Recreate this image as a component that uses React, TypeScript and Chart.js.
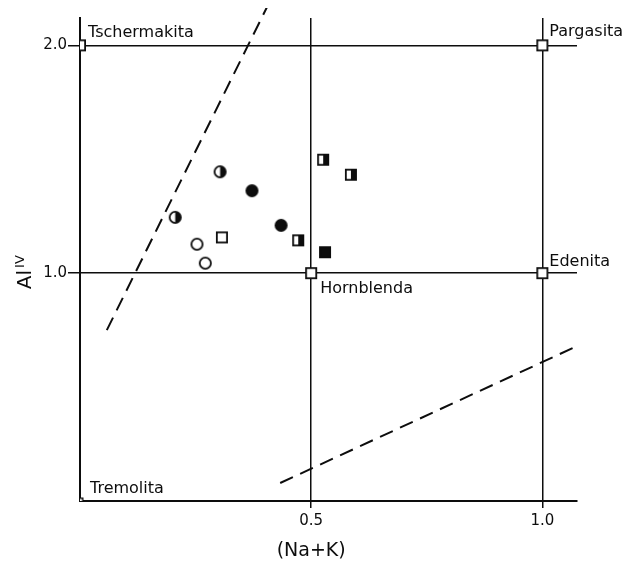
import { useEffect, useRef } from 'react';
import { Chart, registerables } from 'chart.js';

Chart.register(...registerables);

// Axis ticks
const xTicks = [0.5, 1.0];
const yTicks = [1.0, 2.0];

// End-member compositions of the calcic amphiboles
const endMemberNames = ['Tremolita', 'Hornblenda', 'Edenita', 'Tschermakita', 'Pargasita'];
const endMemberNaK = [0, 0.5, 1.0, 0, 1.0];
const endMemberAlIV = [0, 1.0, 1.0, 2.0, 2.0];

// Analysed amphiboles, grouped by symbol
const openCircleNaK = [0.253, 0.271];
const openCircleAlIV = [1.127, 1.044];
const halfCircleNaK = [0.206, 0.303];
const halfCircleAlIV = [1.245, 1.445];
const fullCircleNaK = [0.372, 0.435];
const fullCircleAlIV = [1.362, 1.21];
const openSquareNaK = [0.307];
const openSquareAlIV = [1.157];
const halfSquareNaK = [0.472, 0.526, 0.586];
const halfSquareAlIV = [1.144, 1.498, 1.432];
const fullSquareNaK = [0.53];
const fullSquareAlIV = [1.092];

// Dashed boundary lines
const leftLimitNaK = [0.058, 0.405];
const leftLimitAlIV = [0.75, 2.17];
const rightLimitNaK = [0.433, 1.076];
const rightLimitAlIV = [0.079, 0.681];

const INK = '#0d0d0d';
const FONT = '"DejaVu Sans", sans-serif';

type Shape = 'circle' | 'square';
type Fill = 'open' | 'half' | 'full';

function makeMarker(shape: Shape, fill: Fill, size: number, line = 1.8): HTMLCanvasElement {
  const dim = Math.ceil(size + 2);
  const cv = document.createElement('canvas');
  cv.width = dim;
  cv.height = dim;
  const g = cv.getContext('2d')!;
  const c = dim / 2;
  const h = size / 2 - line / 2;
  g.lineWidth = line;
  g.strokeStyle = INK;
  if (shape === 'circle') {
    g.beginPath();
    g.arc(c, c, h, 0, Math.PI * 2);
    g.fillStyle = fill === 'full' ? INK : '#fff';
    g.fill();
    if (fill === 'half') {
      g.beginPath();
      g.arc(c, c, h, -Math.PI / 2, Math.PI / 2);
      g.closePath();
      g.fillStyle = INK;
      g.fill();
    }
    g.beginPath();
    g.arc(c, c, h, 0, Math.PI * 2);
    g.stroke();
  } else {
    g.fillStyle = fill === 'full' ? INK : '#fff';
    g.fillRect(c - h, c - h, 2 * h, 2 * h);
    if (fill === 'half') {
      g.fillStyle = INK;
      g.fillRect(c, c - h, h, 2 * h);
    }
    g.strokeRect(c - h, c - h, 2 * h, 2 * h);
  }
  return cv;
}

const pts = (xs: number[], ys: number[]) => xs.map((x, i) => ({ x, y: ys[i] }));

export default function App() {
  const canvasRef = useRef<HTMLCanvasElement | null>(null);

  useEffect(() => {
    document.documentElement.style.overflow = 'hidden';
    const canvas = canvasRef.current;
    if (!canvas) return;

    const bigSquare = makeMarker('square', 'open', 12);
    const tinySquare = makeMarker('square', 'open', 7, 1.4);

    // label offsets (px) from each end-member square
    const labelOffsets: [number, number][] = [
      [10, -12],
      [9, 16],
      [7, -11],
      [8, -12],
      [7, -13],
    ];

    const annotations = {
      id: 'amphiboleText',
      afterDatasetsDraw(chart: Chart) {
        const { ctx, scales, chartArea } = chart;
        const xs = scales.x;
        const ys = scales.y;
        ctx.save();
        ctx.fillStyle = INK;
        ctx.font = `16px ${FONT}`;
        ctx.textAlign = 'left';
        ctx.textBaseline = 'middle';
        endMemberNames.forEach((name, i) => {
          const px = xs.getPixelForValue(endMemberNaK[i]);
          const py = ys.getPixelForValue(endMemberAlIV[i]);
          ctx.fillText(name, px + labelOffsets[i][0], py + labelOffsets[i][1]);
        });

        // x-axis title
        ctx.font = `19px ${FONT}`;
        ctx.textAlign = 'center';
        ctx.fillText('(Na+K)', xs.getPixelForValue(0.5), chartArea.bottom + 50);

        // y-axis title: Al with superscript IV, rotated
        ctx.translate(23, ys.getPixelForValue(1.0) + 16);
        ctx.rotate(-Math.PI / 2);
        ctx.textAlign = 'left';
        ctx.textBaseline = 'alphabetic';
        ctx.font = `20px ${FONT}`;
        ctx.fillText('Al', 0, 0);
        const w = ctx.measureText('Al').width;
        ctx.font = `13px ${FONT}`;
        ctx.fillText('IV', w + 2, -7);
        ctx.restore();
      },
    };

    const markerSet = (xs: number[], ys: number[], style: HTMLCanvasElement) => ({
      data: pts(xs, ys),
      pointStyle: style,
      pointRadius: 6,
      showLine: false,
      order: 0,
    });

    const dashed = (xs: number[], ys: number[]) => ({
      data: pts(xs, ys),
      showLine: true,
      borderColor: INK,
      borderWidth: 2,
      borderDash: [14, 8],
      pointRadius: 0,
      fill: false,
      clip: false as const,
      order: 5,
    });

    const chart = new Chart(canvas, {
      type: 'scatter',
      data: {
        datasets: [
          dashed(leftLimitNaK, leftLimitAlIV),
          dashed(rightLimitNaK, rightLimitAlIV),
          {
            data: pts(endMemberNaK, endMemberAlIV),
            pointStyle: [tinySquare, bigSquare, bigSquare, bigSquare, bigSquare],
            pointRadius: 6,
            showLine: false,
            order: 1,
          },
          markerSet(openCircleNaK, openCircleAlIV, makeMarker('circle', 'open', 13)),
          markerSet(halfCircleNaK, halfCircleAlIV, makeMarker('circle', 'half', 13)),
          markerSet(fullCircleNaK, fullCircleAlIV, makeMarker('circle', 'full', 13)),
          markerSet(openSquareNaK, openSquareAlIV, makeMarker('square', 'open', 12)),
          markerSet(halfSquareNaK, halfSquareAlIV, makeMarker('square', 'half', 12)),
          markerSet(fullSquareNaK, fullSquareAlIV, makeMarker('square', 'full', 12)),
        ] as any,
      },
      options: {
        animation: false,
        responsive: true,
        maintainAspectRatio: false,
        layout: { padding: { top: 7, right: 45, left: 0, bottom: 0 } },
        plugins: {
          legend: { display: false },
          tooltip: { enabled: false },
        },
        scales: {
          x: {
            type: 'linear',
            min: 0,
            max: 1.075,
            afterBuildTicks: (s: any) => {
              s.ticks = xTicks.map((v) => ({ value: v }));
            },
            afterFit: (s: any) => {
              s.height = 60;
            },
            grid: {
              color: INK,
              lineWidth: 1.5,
              drawTicks: true,
              tickLength: 7,
              tickColor: INK,
              tickWidth: 1.5,
            },
            border: { display: true, color: INK, width: 2 },
            ticks: {
              autoSkip: false,
              maxRotation: 0,
              padding: 4,
              color: INK,
              font: { family: FONT, size: 15 },
              callback: (v: any) => Number(v).toFixed(1),
            },
          },
          y: {
            type: 'linear',
            min: 0,
            max: 2.12,
            afterBuildTicks: (s: any) => {
              s.ticks = yTicks.map((v) => ({ value: v }));
            },
            afterFit: (s: any) => {
              s.width = 72;
            },
            grid: {
              color: INK,
              lineWidth: 1.5,
              drawTicks: true,
              tickLength: 12,
              tickColor: INK,
              tickWidth: 1.5,
            },
            border: { display: true, color: INK, width: 2 },
            ticks: {
              autoSkip: false,
              padding: 1,
              color: INK,
              font: { family: FONT, size: 15 },
              callback: (v: any) => Number(v).toFixed(1),
            },
          },
        },
      },
      plugins: [annotations],
    });

    return () => chart.destroy();
  }, []);

  return (
    <div style={{ width: 614, height: 553, position: 'relative', background: '#fff' }}>
      <canvas ref={canvasRef} />
    </div>
  );
}
